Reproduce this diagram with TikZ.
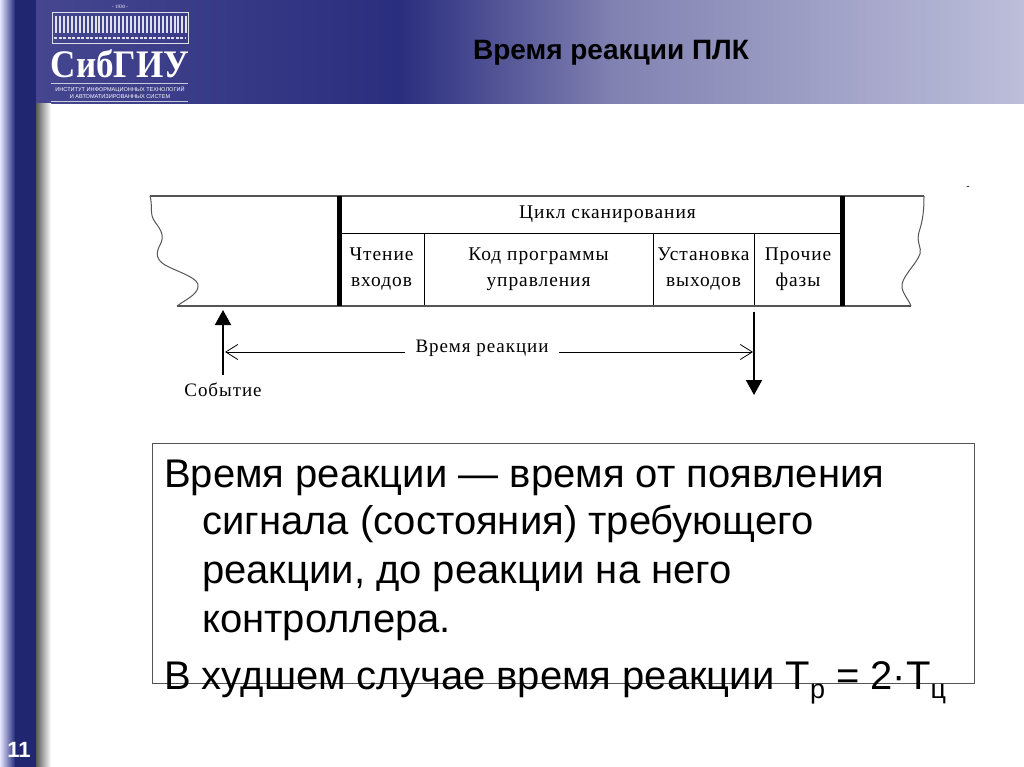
\documentclass[tikz,border=0pt]{standalone}
\usepackage{fontspec}
\usepackage{graphicx}
\usepackage{xcolor}
\usetikzlibrary{arrows.meta, positioning}
\setmainfont{Liberation Sans}
\newfontfamily\schemefont[LetterSpace=5]{Liberation Serif}
\newfontfamily\logofont{Liberation Serif}
\definecolor{bandnavy}{HTML}{232B7C}
\definecolor{bandlogo}{HTML}{45468F}
\definecolor{banddeep}{HTML}{2A2E7E}
\definecolor{bandmid}{HTML}{8282B2}
\definecolor{bandpale}{HTML}{BCBEDA}
\definecolor{schemeline}{HTML}{555555}
\begin{document}
\begin{tikzpicture}[
  x=1pt, y=-1pt,
  cell/.style={draw=black, line width=0.9pt, minimum height=73pt, inner sep=0pt, outer sep=0pt,
    align=center, font=\schemefont\fontsize{19.4}{26}\selectfont},
  boxline/.style={anchor=base west, inner sep=0pt, font=\fontsize{40}{44}\selectfont},
  logotext/.style={inner sep=0pt, text=white},
  rail/.style={draw=schemeline, line width=1.4pt},
  bigtip/.style={-{Triangle[length=15pt,width=16pt]}, line width=2pt},
  thintip/.style={-{Straight Barb[length=12pt,width=15pt,line width=0.8pt]}, line width=1pt},
]
  \useasboundingbox (0,0) rectangle (1024,767);
  % slide frame
  \fill[white] (0,0) rectangle (1024,767);
  \shade[left color=bandlogo, right color=banddeep] (36,0) rectangle (400.5,104);
  \shade[left color=banddeep, right color=bandmid] (400,0) rectangle (615.5,104);
  \shade[left color=bandmid, right color=bandpale] (615,0) rectangle (1024,104);
  \shade[left color=gray!70!black, right color=white] (36,104) rectangle (51,767);
  \shade[left color=blue!10!white, right color=bandnavy] (0,0) rectangle (15,767);
  \fill[bandnavy!90!black] (15,0) rectangle (36,767);
  \node[logotext, font=\bfseries\fontsize{22}{22}\selectfont, anchor=base] (pagenum) at (19,757) {11};
  \node[anchor=base, inner sep=0pt, font=\bfseries\fontsize{28}{28}\selectfont] (title) at (611,60) {Время реакции ПЛК};

  % logo
  \node[logotext, font=\logofont\fontsize{5}{5}\selectfont] (year) at (120,7) {- 1930 -};
  \draw[white!85!bandnavy, line width=0.5pt] (52,12) rectangle (188,43);
  \foreach \i in {0,...,33}
    \fill[white!85!bandnavy] (55+\i*3.95,16) rectangle ++(2,17);
  \draw[white!85!bandnavy, line width=2pt, dash pattern=on 3pt off 1.5pt] (54,38.5) -- (186,38.5);
  \node[logotext, font=\logofont\bfseries\fontsize{39}{39}\selectfont, anchor=base] (sibgiu) at (120,78) {\scalebox{0.9}[1]{СибГИУ}};
  \draw[white!75!bandnavy, line width=0.8pt] (51,83) -- (188,83);
  \draw[white!75!bandnavy, line width=0.8pt] (51,101) -- (188,101);
  \node[logotext, font=\fontsize{5.6}{7}\selectfont, align=center, anchor=north] (institute) at (120,86)
    {ИНСТИТУТ ИНФОРМАЦИОННЫХ ТЕХНОЛОГИЙ\\И АВТОМАТИЗИРОВАННЫХ СИСТЕМ};

  % scan cycle
  \node[cell, minimum width=85pt, anchor=north west] (inputs) at (339,233) {Чтение\\входов};
  \node[cell, minimum width=229pt, right=0pt of inputs] (program) {Код программы\\управления};
  \node[cell, minimum width=101pt, right=0pt of program] (outputs) {Установка\\выходов};
  \node[cell, minimum width=88pt, right=0pt of outputs] (other) {Прочие\\фазы};
  \node[cell, minimum height=37pt, minimum width=503pt, anchor=south west] (cycle) at (inputs.north west) {\hspace*{34pt}Цикл сканирования};

  \coordinate (topleft) at (150,196);
  \coordinate (topright) at (924,196);
  \coordinate (botleft) at (177,306);
  \coordinate (botright) at (911,306);
  \draw[rail] (topleft) -- (topright);
  \draw[rail] (botleft) -- (botright);
  \draw[schemeline, line width=1pt] (topleft) .. controls (153,206) and (149,214) .. (155,222)
    .. controls (161,230) and (165,236) .. (160,245) .. controls (155,254) and (157,260) .. (165,265)
    .. controls (180,273) and (200,278) .. (198,287) .. controls (197,295) and (185,300) .. (botleft);
  \draw[schemeline, line width=1pt] (topright) .. controls (924,210) and (923,220) .. (919,232)
    .. controls (916,242) and (922,248) .. (920,254) .. controls (916,265) and (900,278) .. (902,288)
    .. controls (904,296) and (909,300) .. (botright);
  \draw[line width=5pt] (cycle.north west) -- (inputs.south west);
  \draw[line width=5pt] (cycle.north east) -- (other.south east);

  % reaction time
  \coordinate (eventtop) at (223,310);
  \coordinate (eventend) at (223,375);
  \coordinate (outtop) at (754,312);
  \coordinate (outend) at (754,395);
  \draw[bigtip] (eventend) -- (eventtop);
  \draw[bigtip] (outtop) -- (outend);
  \node[inner sep=0pt, font=\schemefont\fontsize{19}{20}\selectfont] (event) at (223,390) {Событие};
  \node[inner sep=0pt, font=\schemefont\fontsize{19}{20}\selectfont] (reaction) at (482,348) {Время реакции};
  \coordinate (arrowleft) at (225,352);
  \coordinate (arrowright) at (753,352);
  \draw[thintip] (reaction.west |- arrowleft) ++(-10,0) coordinate (leftstart) -- (arrowleft);
  \draw[thintip] (reaction.east |- arrowright) ++(10,0) coordinate (rightstart) -- (arrowright);

  % definition
  \node[draw=schemeline, line width=0.9pt, anchor=north west, minimum width=822pt, minimum height=240pt, inner sep=0pt] (defbox) at (152,443) {};
  \node[boxline] (line1) at (164,487) {Время реакции — время от появления};
  \node[boxline] (line2) at (202,534) {сигнала (состояния) требующего};
  \node[boxline] (line3) at (202,583) {реакции, до реакции на него};
  \node[boxline] (line4) at (202,632) {контроллера.};
  \node[boxline] (line5) at (164,689) {В худшем случае время реакции Т\raisebox{-9pt}{\fontsize{27}{27}\selectfont р} = 2·Т\raisebox{-9pt}{\fontsize{27}{27}\selectfont ц}};
  \node[inner sep=0pt, font=\fontsize{10}{10}\selectfont] (dash) at (968,188) {-};
\end{tikzpicture}
\end{document}
